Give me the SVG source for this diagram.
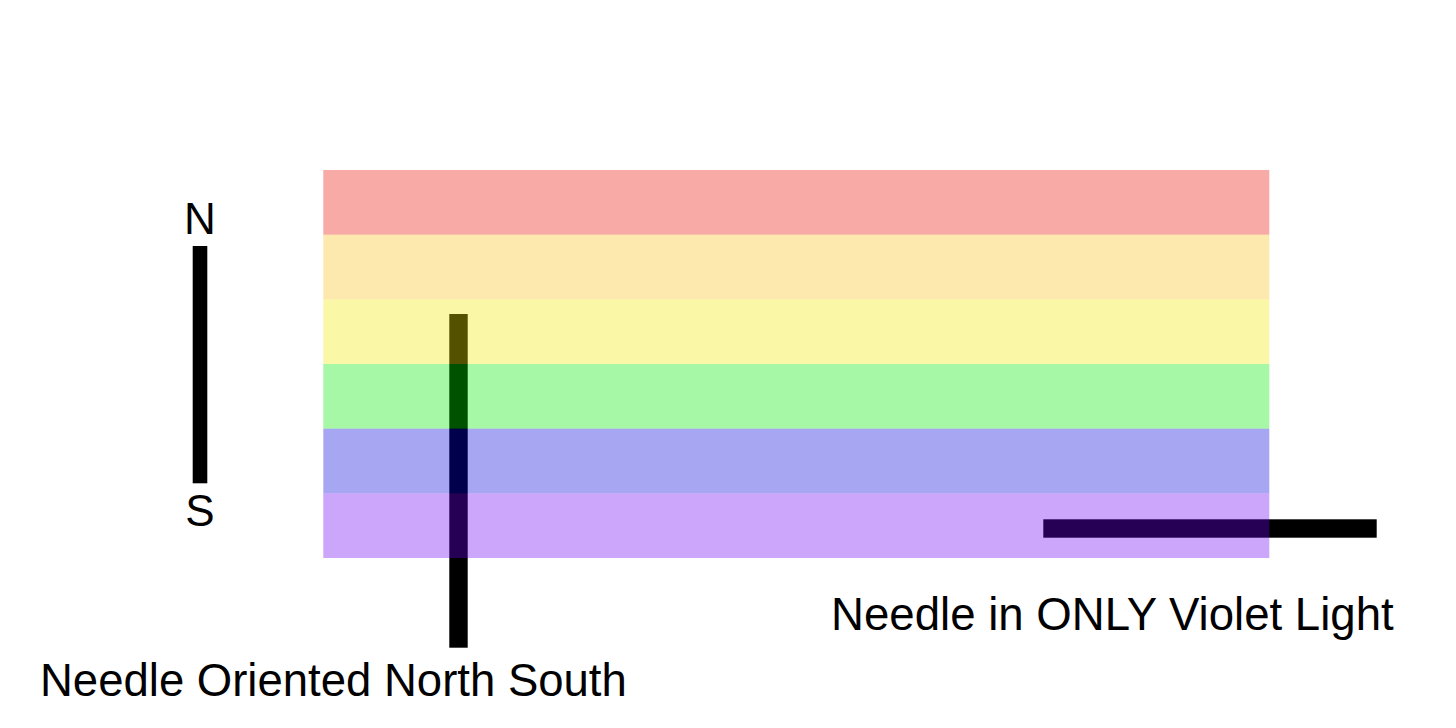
<svg xmlns="http://www.w3.org/2000/svg" width="1456" height="728" viewBox="0 0 1456 728">
<style>
.lbl{font-family:"Liberation Sans",Arial,sans-serif;fill:#000}
.needle{fill:#000}
.band{fill-opacity:0.35}
</style>
<rect width="1456" height="728" fill="#fff"/>
<g id="compass">
<text class="lbl" x="200" y="234" font-size="44" text-anchor="middle">N</text>
<rect class="needle" x="192.7" y="246" width="14.6" height="237.3"/>
<text class="lbl" x="200" y="525.5" font-size="44" text-anchor="middle">S</text>
</g>
<g id="needle-ns">
<rect class="needle" x="449.3" y="314" width="18.4" height="333.7"/>
</g>
<g id="needle-violet">
<rect class="needle" x="1043.3" y="519.3" width="333.4" height="18.4"/>
</g>
<g id="spectrum">
<rect class="band" x="323.3" y="170" width="946" height="64.7" fill="rgb(231,12,0)"/>
<rect class="band" x="323.3" y="234.7" width="946" height="64.6" fill="rgb(249,190,22)"/>
<rect class="band" x="323.3" y="299.3" width="946" height="64.7" fill="rgb(240,234,0)"/>
<rect class="band" x="323.3" y="364" width="946" height="64.7" fill="rgb(0,235,0)"/>
<rect class="band" x="323.3" y="428.7" width="946" height="64.6" fill="rgb(0,0,221)"/>
<rect class="band" x="323.3" y="493.3" width="946" height="64.7" fill="rgb(106,0,243)"/>
</g>
<g id="labels">
<text class="lbl" x="40" y="696" font-size="45.5">Needle Oriented North South</text>
<text class="lbl" x="831" y="629.5" font-size="45.6">Needle in ONLY Violet Light</text>
</g>
</svg>
